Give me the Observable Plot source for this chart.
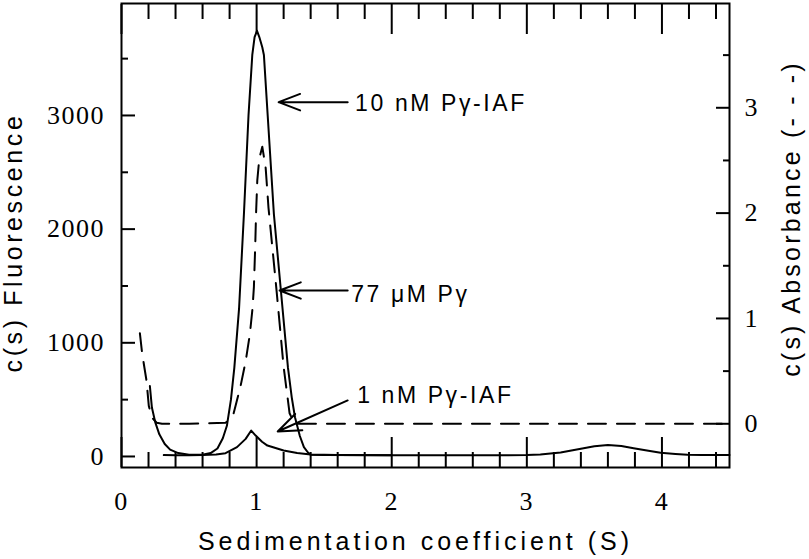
<!DOCTYPE html>
<html>
<head>
<meta charset="utf-8">
<script src="https://cdn.jsdelivr.net/npm/d3@7"></script>
<script src="https://cdn.jsdelivr.net/npm/@observablehq/plot@0.6"></script>
<style>
  html, body { margin: 0; padding: 0; background: white; }
</style>
</head>
<body>
<div id="chart"></div>
<script>
// ---- Data ----
// 10 nM Pγ-IAF, c(s) fluorescence (solid)
const s10 = [0.21,0.225,0.25,0.28,0.32,0.36,0.42,0.5,0.6,0.66,0.71,0.75,0.78,0.81,0.835,0.87,0.906,0.94,0.968,0.985,1.003,1.02,1.042,1.054,1.082,1.128,1.18,1.232,1.26,1.284,1.32,1.35,1.38,1.4,1.5,2.0,2.6,3.0,3.1,3.25,3.4,3.5,3.6,3.7,3.79,3.9,3.99,4.1,4.19,4.3,4.5];
const f10 = [620,430,300,195,110,60,30,16,15,30,70,160,270,500,780,1300,2131,3000,3532,3690,3745,3690,3600,3532,3000,2131,1456,781,520,345,180,82,35,15,12,10,10,12,18,35,68,90,100,92,72,50,32,22,16,12,12];
// 1 nM Pγ-IAF, c(s) fluorescence (solid)
const s1 = [0.313,0.4,0.5,0.6,0.7,0.77,0.855,0.919,0.96,0.993,1.04,1.08,1.2,1.3,1.4,1.6,2.0];
const f1 = [12,10,10,12,18,29,82,155,228,184,130,96,53,30,18,12,10];
// 77 μM Pγ, c(s) absorbance (dashed, right axis)
const sA = [0.136,0.15,0.165,0.185,0.202,0.225,0.26,0.3,0.5,0.77,0.8,0.83,0.85,0.88,0.92,0.95,0.97,0.98,0.99,0.996,1.005,1.02,1.042,1.067,1.088,1.148,1.2,1.244,1.27,1.3,2.0,3.0,4.5];
const aA = [0.86,0.7,0.57,0.41,0.17,0.06,0.01,0,0,0.01,0.04,0.1,0.2,0.35,0.6,0.85,1.1,1.3,1.7,2.0,2.31,2.52,2.63,2.43,2.05,1.26,0.54,0.1,0.03,0,0,0,0];

// Annotations (data coordinates)
const noteText = ["10 nM Pγ-IAF", "77 μM Pγ", "1 nM Pγ-IAF"];
const noteS = [1.729, 1.70, 1.744];
const noteF = [3105, 1425, 537];
const arrowTailS = [1.674, 1.674, 1.674];
const arrowTailF = [3117, 1460, 493];
const arrowTipS = [1.163, 1.17, 1.156];
const arrowTipF = [3117, 1460, 220];

// Axes
const xDomain = [0, 4.5];
const fDomain = [-97, 3985];     // left axis: c(s) Fluorescence
const aDomain = [-0.415, 3.99];  // right axis: c(s) Absorbance
const xMajor = [0, 1, 2, 3, 4];
const xMinor = [0.2,0.4,0.6,0.8,1.2,1.4,1.6,1.8,2.2,2.4,2.6,2.8,3.2,3.4,3.6,3.8,4.2,4.4];
const fMajor = [0, 1000, 2000, 3000];
const fMinor = [500, 1500, 2500, 3500];
const aMajor = [0, 1, 2, 3];
const aMinor = [0.5, 1.5, 2.5, 3.5];
const xTitle = "Sedimentation coefficient (S)";
const yTitle = "c(s) Fluorescence";
const y2Title = "c(s) Absorbance (- - -)";

// map absorbance onto the fluorescence scale (dual axis)
const toF = a => fDomain[0] + (a - aDomain[0]) * (fDomain[1] - fDomain[0]) / (aDomain[1] - aDomain[0]);
const fromF = f => aDomain[0] + (f - fDomain[0]) * (aDomain[1] - aDomain[0]) / (fDomain[1] - fDomain[0]);

const d10 = s10.map((s, i) => ({s, v: f10[i]}));
const d1 = s1.map((s, i) => ({s, v: f1[i]}));
const dA = sA.map((s, i) => ({s, v: toF(aA[i])}));
const notes = noteText.map((t, i) => ({t, s: noteS[i], v: noteF[i]}));
const arrows = arrowTailS.map((s, i) => ({x1: s, y1: arrowTailF[i], x2: arrowTipS[i], y2: arrowTipF[i]}));

const serif = "'Liberation Serif', 'Times New Roman', serif";
const sans = "'Liberation Sans', Arial, sans-serif";
const titleStyle = {text: d => d, fontFamily: sans, fontSize: 25, fill: "black", textAnchor: "middle", lineAnchor: "middle"};

const chart = Plot.plot({
  width: 809,
  height: 559,
  marginLeft: 121,
  marginRight: 80,
  marginTop: 3,
  marginBottom: 92,
  x: {domain: xDomain},
  y: {domain: fDomain},
  style: {background: "white", color: "black", fontFamily: serif, fontSize: "26px", overflow: "visible"},
  marks: [
    // ticks (inward)
    Plot.axisX(xMajor, {anchor: "bottom", tickSize: -30, text: null, label: null, strokeWidth: 2}),
    Plot.axisX(xMinor, {anchor: "bottom", tickSize: -15, text: null, label: null, strokeWidth: 2}),
    Plot.axisX(xMajor, {anchor: "top", tickSize: -30, text: null, label: null, strokeWidth: 2}),
    Plot.axisX(xMinor, {anchor: "top", tickSize: -15, text: null, label: null, strokeWidth: 2}),
    Plot.axisY(fMajor, {anchor: "left", tickSize: -14, text: null, label: null, strokeWidth: 2}),
    Plot.axisY(fMinor, {anchor: "left", tickSize: -7, text: null, label: null, strokeWidth: 2}),
    Plot.axisY(aMajor.map(toF), {anchor: "right", tickSize: -14, text: null, label: null, strokeWidth: 2}),
    Plot.axisY(aMinor.map(toF), {anchor: "right", tickSize: -7, text: null, label: null, strokeWidth: 2}),
    // tick labels
    Plot.axisX(xMajor, {anchor: "bottom", tickSize: 0, tickPadding: 24.5, label: null, tickFormat: d => String(d), fontSize: 26}),
    Plot.axisY(fMajor, {anchor: "left", tickSize: 0, tickPadding: 16.5, label: null, tickFormat: d => String(d), fontSize: 26}),
    Plot.axisY(aMajor.map(toF), {anchor: "right", tickSize: 0, tickPadding: 15, label: null, tickFormat: d => String(Math.round(fromF(d))), fontSize: 26}),
    // curves
    Plot.line(dA, {x: "s", y: "v", stroke: "black", strokeWidth: 2, strokeDasharray: "18,11", strokeLinejoin: "round"}),
    Plot.line(d1, {x: "s", y: "v", stroke: "black", strokeWidth: 2, strokeLinejoin: "round"}),
    Plot.line(d10, {x: "s", y: "v", stroke: "black", strokeWidth: 2, strokeLinejoin: "round"}),
    // annotations
    Plot.arrow(arrows, {x1: "x1", y1: "y1", x2: "x2", y2: "y2", stroke: "black", strokeWidth: 2, headLength: 18.5, headAngle: 42}),
    Plot.text(notes, {x: "s", y: "v", text: "t", textAnchor: "start", fontFamily: sans, fontSize: 23, fill: "black"}),
    // axis titles
    Plot.text([xTitle], {frameAnchor: "bottom", dx: -10, dy: 74, ...titleStyle}),
    Plot.text([yTitle], {frameAnchor: "left", dx: -107.5, dy: 7, rotate: -90, ...titleStyle}),
    Plot.text([y2Title], {frameAnchor: "right", dx: 62.5, dy: -17, rotate: -90, ...titleStyle}),
    Plot.frame({stroke: "black", strokeWidth: 2})
  ]
});
document.getElementById("chart").appendChild(chart);

// letter spacing of the original typesetting
const spacingByText = {[xTitle]: "4px", [yTitle]: "3.6px", [y2Title]: "3.2px"};
const spacingBySize = {"23px": "2.6px", "26px": "1.5px"};
d3.select(chart).selectAll("text").each(function () {
  const ls = spacingByText[this.textContent] || spacingBySize[getComputedStyle(this).fontSize];
  if (ls) this.style.letterSpacing = ls;
});
</script>
</body>
</html>
